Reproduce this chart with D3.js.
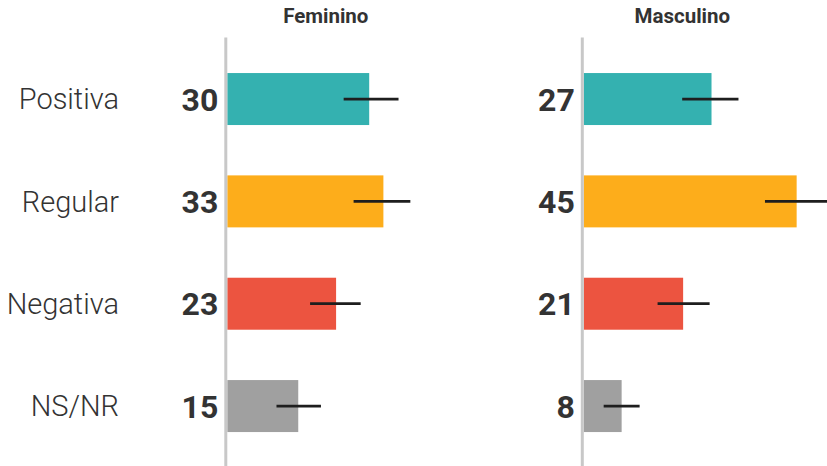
<!DOCTYPE html>
<html>
<head>
<meta charset="utf-8">
<script src="https://cdn.jsdelivr.net/npm/d3@7"></script>
<style>
  html, body { margin: 0; padding: 0; background: #fff; }
  svg { display: block; font-family: Roboto, "Noto Sans", sans-serif; }
</style>
</head>
<body>
<svg id="chart" width="827" height="466"></svg>
<script>
// ---- data ----
const categories = ["Positiva", "Regular", "Negativa", "NS/NR"];
const panels = ["Feminino", "Masculino"];
const femininoValues = [30, 33, 23, 15];
const masculinoValues = [27, 45, 21, 8];
const femininoLow = [24.6, 26.7, 17.5, 10.4];
const femininoHigh = [36.2, 38.7, 28.2, 19.8];
const masculinoLow = [20.8, 38.3, 15.6, 4.2];
const masculinoHigh = [32.7, 51.7, 26.6, 11.8];
const colors = ["#34b1b0", "#fdad1b", "#ec5440", "#a0a0a0"];

const svg = d3.select("#chart");
const W = 827, H = 466;

const y = d3.scaleBand().domain(categories).range([22.7, 482.4]).padding(0.492);

const panelData = [
  { name: panels[0], axisX: 227.3, values: femininoValues, low: femininoLow, high: femininoHigh },
  { name: panels[1], axisX: 583.8, values: masculinoValues, low: masculinoLow, high: masculinoHigh }
];

// category labels
svg.append("g").selectAll("text").data(categories).join("text")
  .attr("x", 119)
  .attr("y", d => y(d) + y.bandwidth() / 2)
  .attr("dy", "0.35em")
  .attr("text-anchor", "end")
  .style("font-size", "29px")
  .style("font-weight", 300)
  .style("fill", "#333")
  .text(d => d);

panelData.forEach(p => {
  const x = d3.scaleLinear().domain([0, 50]).range([p.axisX, p.axisX + 50 * 4.73]);
  const g = svg.append("g");
  const rows = categories.map((c, i) => ({ c, v: p.values[i], lo: p.low[i], hi: p.high[i], color: colors[i] }));

  // title
  g.append("text")
    .attr("x", p.axisX + 98.5)
    .attr("y", 23)
    .attr("text-anchor", "middle")
    .style("font-size", "20.5px")
    .style("font-weight", 700)
    .style("fill", "#333")
    .text(p.name);

  // bars
  g.selectAll("rect").data(rows).join("rect")
    .attr("x", x(0))
    .attr("y", d => y(d.c))
    .attr("width", d => x(d.v) - x(0))
    .attr("height", y.bandwidth())
    .attr("fill", d => d.color);

  // axis line
  g.append("line")
    .attr("x1", x(0) - 1.5).attr("x2", x(0) - 1.5)
    .attr("y1", 37.5).attr("y2", H)
    .attr("stroke", "#c8c8c8")
    .attr("stroke-width", 3);

  // error bars
  g.selectAll("line.err").data(rows).join("line")
    .attr("class", "err")
    .attr("x1", d => x(d.lo))
    .attr("x2", d => x(d.hi))
    .attr("y1", d => y(d.c) + y.bandwidth() / 2)
    .attr("y2", d => y(d.c) + y.bandwidth() / 2)
    .attr("stroke", "#1e1e1e")
    .attr("stroke-width", 2.8);

  // value labels
  g.selectAll("text.val").data(rows).join("text")
    .attr("class", "val")
    .attr("x", x(0) - 9)
    .attr("y", d => y(d.c) + y.bandwidth() / 2)
    .attr("dy", "0.36em")
    .attr("text-anchor", "end")
    .style("font-size", "32px")
    .style("font-weight", 700)
    .style("fill", "#333")
    .text(d => d.v);
});
</script>
</body>
</html>
